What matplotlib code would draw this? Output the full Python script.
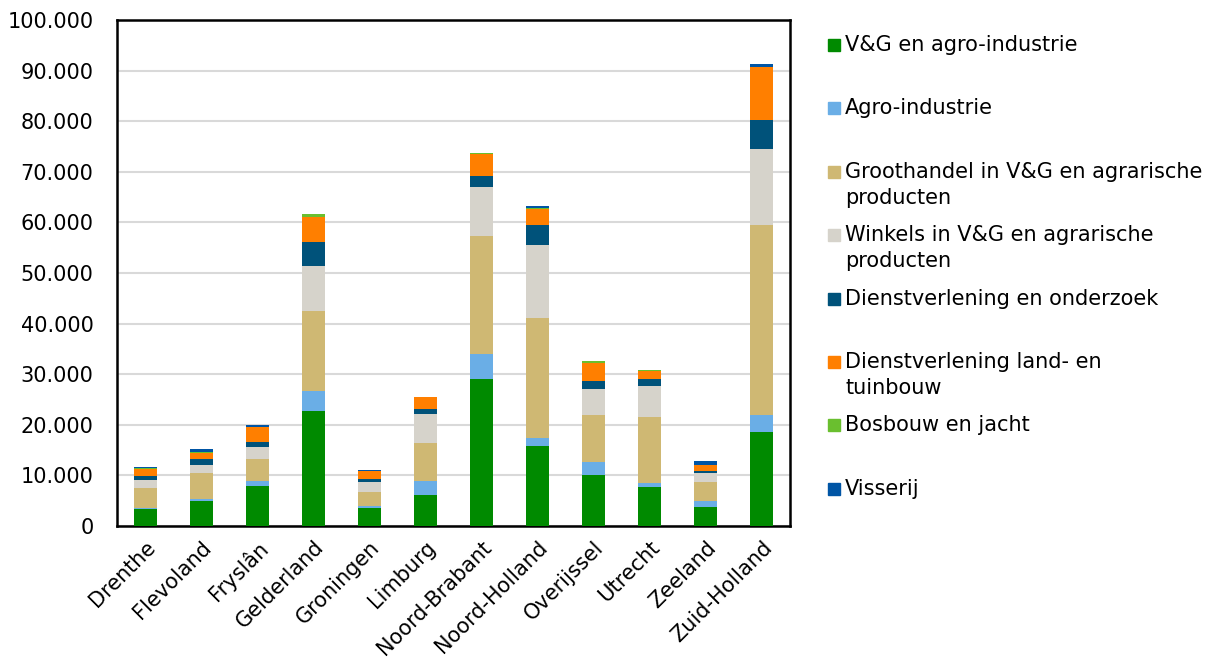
import matplotlib
matplotlib.use("Agg")
import matplotlib.pyplot as plt
from matplotlib.patches import Rectangle
from matplotlib.ticker import FuncFormatter, MultipleLocator
import numpy as np

# provinces on the x axis
provinces = ["Drenthe", "Flevoland", "Fryslân", "Gelderland", "Groningen",
             "Limburg", "Noord-Brabant", "Noord-Holland", "Overijssel",
             "Utrecht", "Zeeland", "Zuid-Holland"]

# one list per sector
vg_agro = [3300, 5000, 7840, 22790, 3620, 6190, 29120, 15870, 10080, 7770, 3690, 18580]
agro_industrie = [200, 340, 1050, 3890, 400, 2700, 4940, 1590, 2500, 730, 1310, 3360]
groothandel = [4070, 5200, 4410, 15810, 2770, 7510, 23310, 23710, 9360, 13110, 3760, 37610]
winkels = [1580, 1450, 2250, 8830, 1970, 5670, 9690, 14430, 5070, 6120, 1710, 15020]
dienst_onderzoek = [670, 1310, 1120, 4870, 600, 1120, 2180, 3950, 1580, 1320, 400, 5730]
dienst_land = [1440, 1130, 2890, 4880, 1440, 2240, 4210, 3030, 3690, 1580, 1130, 10410]
bosbouw = [250, 100, 50, 520, 100, 80, 260, 270, 260, 200, 100, 100]
visserij = [80, 620, 260, 60, 170, 50, 50, 450, 50, 50, 680, 430]

series = [
    (["V&G en agro-industrie"], vg_agro, "#008a00"),
    (["Agro-industrie"], agro_industrie, "#6aaee6"),
    (["Groothandel in V&G en agrarische", "producten"], groothandel, "#cfb873"),
    (["Winkels in V&G en agrarische", "producten"], winkels, "#d6d3cb"),
    (["Dienstverlening en onderzoek"], dienst_onderzoek, "#00527a"),
    (["Dienstverlening land- en", "tuinbouw"], dienst_land, "#ff7f00"),
    (["Bosbouw en jacht"], bosbouw, "#6abf2f"),
    (["Visserij"], visserij, "#0055a5"),
]

W, H = 1217, 669
FONT = 15

fig = plt.figure(figsize=(W / 100, H / 100), dpi=100)
ax = fig.add_axes([117 / W, 1 - 526 / H, (790 - 117) / W, (526 - 20) / H])

x = np.arange(len(provinces))
bottom = np.zeros(len(provinces))
for labels, vals, color in series:
    vals = np.array(vals, dtype=float)
    ax.bar(x, vals, width=0.41, bottom=bottom, color=color, zorder=3)
    bottom = bottom + vals

ax.set_xlim(-0.5, len(provinces) - 0.5)
ax.set_ylim(0, 100000)
ax.yaxis.set_major_locator(MultipleLocator(10000))
ax.yaxis.set_major_formatter(FuncFormatter(lambda v, p: f"{int(v):,}".replace(",", ".")))
ax.grid(axis="y", color="#d9d9d9", linewidth=1.5, zorder=0)
ax.set_axisbelow(True)

ax.set_xticks(x)
ax.set_xticklabels(provinces, rotation=45, ha="right", rotation_mode="anchor")
ax.tick_params(axis="both", length=0, labelsize=FONT, colors="black")
ax.tick_params(axis="y", pad=17)
ax.tick_params(axis="x", pad=8)
for spine in ax.spines.values():
    spine.set_color("black")
    spine.set_linewidth(1.8)

# legend drawn by hand, evenly spaced like the original
for i, (labels, vals, color) in enumerate(series):
    yc = 45 + 63.4 * i
    fig.add_artist(Rectangle((828 / W, 1 - (yc + 6) / H), 12 / W, 12 / H,
                             transform=fig.transFigure, color=color))
    for j, line in enumerate(labels):
        fig.text(845 / W, 1 - (yc + 26 * j) / H, line, fontsize=FONT,
                 va="center", ha="left", color="black")

fig.savefig("out.png", dpi=100)
